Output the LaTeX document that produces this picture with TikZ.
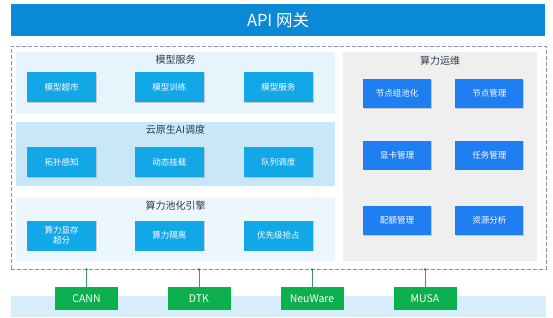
\documentclass[tikz,border=0pt]{standalone}
\usepackage{fontspec}
\setmainfont{Noto Sans CJK SC}
\usetikzlibrary{positioning,shadows}

\definecolor{gwblue}{RGB}{10,138,214}
\definecolor{panelA}{RGB}{232,244,252}
\definecolor{panelB}{RGB}{200,232,249}
\definecolor{panelC}{RGB}{236,246,253}
\definecolor{opsgray}{RGB}{239,239,239}
\definecolor{cyanbox}{RGB}{18,168,232}
\definecolor{bluebox}{RGB}{30,126,242}
\definecolor{drvgreen}{RGB}{12,176,78}
\definecolor{bandblue}{RGB}{216,238,250}
\definecolor{dashgray}{RGB}{130,146,180}
\definecolor{titlegray}{RGB}{45,58,74}

\tikzset{
  gatebar/.style={fill=gwblue, text=white, minimum width=534pt, minimum height=32pt, inner sep=0pt, font=\fontsize{16.5}{18}\selectfont},
  corebox/.style={draw=dashgray, dash pattern=on 4pt off 2pt, line width=0.9pt, minimum width=535pt, minimum height=223pt, inner sep=0pt},
  panel/.style={minimum width=319pt, minimum height=64pt, inner sep=0pt},
  paneltitle/.style={text=titlegray, inner sep=1pt, font=\fontsize{10}{11}\selectfont},
  funcbox/.style={fill=cyanbox, text=white, minimum width=69pt, minimum height=30pt, inner sep=0pt, align=center,
    font=\fontsize{8.5}{9.5}\selectfont, drop shadow={shadow xshift=0.8pt, shadow yshift=-0.8pt, opacity=0.35}},
  opsbox/.style={funcbox, fill=bluebox, minimum width=68pt, minimum height=29pt},
  drvbox/.style={fill=drvgreen, text=white, minimum width=63pt, minimum height=23pt, inner sep=0pt, font=\fontsize{10.5}{12}\selectfont},
  drvline/.style={draw=drvgreen!60!gray, line width=0.6pt},
  drvdot/.style={circle, fill=drvgreen!80!black, inner sep=0pt, minimum size=2.5pt}
}

\begin{document}
\begin{tikzpicture}[x=1pt, y=-1pt]
  \useasboundingbox (0,0) rectangle (553,317);

  % gateway and driver band
  \node[gatebar] (gw) at (278,20) {API 网关};
  \node[fill=bandblue, minimum width=535pt, minimum height=21pt, inner sep=0pt] (band) at (278.5,306.5) {};
  \node[corebox] (core) at (278.5,157.5) {};

  % left panels
  \node[panel, fill=panelA, minimum height=62pt] (svc) at (175.5,83) {};
  \node[panel, fill=panelB] (sched) at (175.5,154) {};
  \node[panel, fill=panelC] (pool) at (175.5,229) {};
  \node[paneltitle, below=2pt of svc.north] (svct) {模型服务};
  \node[paneltitle, below=2pt of sched.north] (schedt) {云原生AI调度};
  \node[paneltitle, below=3pt of pool.north] (poolt) {算力池化引擎};

  \node[funcbox] (market) at (61.5,87) {模型超市};
  \node[funcbox, right=38.5pt of market] (train) {模型训练};
  \node[funcbox, right=39.5pt of train] (serve) {模型服务};

  \node[funcbox] (topo) at (61.5,162) {拓扑感知};
  \node[funcbox, right=38.5pt of topo] (mount) {动态挂载};
  \node[funcbox, right=39.5pt of mount] (queue) {队列调度};

  \node[funcbox] (oversub) at (61.5,235.5) {算力显存\\超分};
  \node[funcbox, right=38.5pt of oversub] (isolate) {算力隔离};
  \node[funcbox, right=39.5pt of isolate] (preempt) {优先级抢占};

  % right panel
  \node[fill=opsgray, minimum width=194pt, minimum height=209pt, inner sep=0pt] (ops) at (440,156.5) {};
  \node[paneltitle, below=3pt of ops.north] (opst) {算力运维};
  \node[opsbox] (nodepool) at (397,93.5) {节点组池化};
  \node[opsbox, right=24pt of nodepool] (nodemgr) {节点管理};
  \node[opsbox] (gpumgr) at (397,155) {显卡管理};
  \node[opsbox, right=24pt of gpumgr] (taskmgr) {任务管理};
  \node[opsbox] (quota) at (397,220.5) {配额管理};
  \node[opsbox, right=24pt of quota] (analyse) {资源分析};

  % drivers
  \foreach \name/\lbl/\x in {cann/CANN/86.5, dtk/DTK/199, neu/NeuWare/312, musa/MUSA/425} {
    \node[drvbox] (\name) at (\x,298.5) {\lbl};
    \draw[drvline] (\name.north) -- (\name.north |- core.south) node[drvdot] {};
  }
\end{tikzpicture}
\end{document}
